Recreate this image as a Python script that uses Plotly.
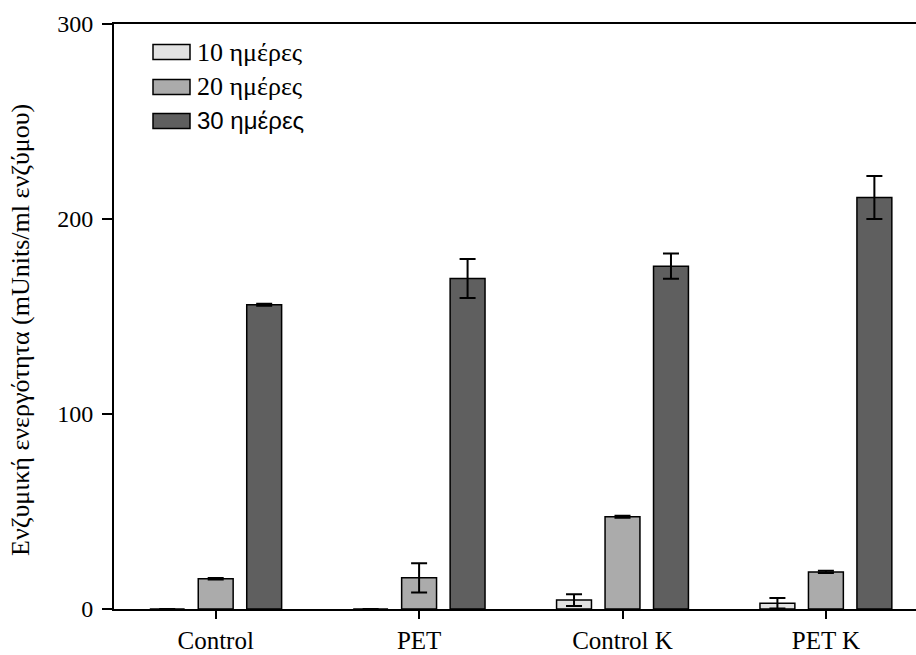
import plotly.graph_objects as go

categories = ["Control", "PET", "Control K", "PET K"]
series_names = ["10 ημέρες", "20 ημέρες", "30 ημέρες"]
values_10 = [0, 0, 4.6, 3.0]
values_20 = [15.5, 16.0, 47.3, 19.0]
values_30 = [156.0, 169.5, 175.8, 211.0]
err_10 = [None, None, 3.0, 2.7]
err_20 = [0.4, 7.5, 0.5, 0.6]
err_30 = [0.5, 10.0, 6.5, 11.0]
colors = ["#e2e2e2", "#ababab", "#5f5f5f"]
y_ticks = [0, 100, 200, 300]
y_title = "Ενζυμική ενεργότητα (mUnits/ml ενζύμου)"

serif = "Liberation Serif, Times New Roman, serif"
sans = "Liberation Sans, Arial, sans-serif"

fig = go.Figure()
for name, vals, errs, col in zip(series_names, [values_10, values_20, values_30],
                                 [err_10, err_20, err_30], colors):
    fig.add_trace(go.Bar(
        x=categories, y=vals, name=name,
        marker=dict(color=col, line=dict(color="black", width=1.5)),
        error_y=dict(type="data", array=errs, visible=True, color="black",
                     thickness=2, width=8),
        showlegend=False,
    ))

W, H = 916, 655
ml, mr, mt, mb = 114, 0, 24, 46
pw, ph = W - ml - mr, H - mt - mb

def px_x(px):
    return (px - ml) / pw

def px_y(py):
    return (H - mb - py) / ph

# manual legend
legend_y = [52, 87, 121]
legend_fonts = [serif, serif, sans]
shapes = []
annotations = []
for name, col, ly, fnt in zip(series_names, colors, legend_y, legend_fonts):
    shapes.append(dict(type="rect", xref="paper", yref="paper",
                       x0=px_x(153), x1=px_x(190), y0=px_y(ly + 7.5), y1=px_y(ly - 7.5),
                       fillcolor=col, line=dict(color="black", width=1.5)))
    annotations.append(dict(xref="paper", yref="paper", x=px_x(195), y=px_y(ly),
                            text=name, showarrow=False, xanchor="left", yanchor="middle",
                            font=dict(family=fnt, size=26 if fnt == serif else 24,
                                      color="black")))

# y-axis title as rotated annotation
annotations.append(dict(xref="paper", yref="paper", x=px_x(21), y=px_y(330),
                        text=y_title, showarrow=False, textangle=-90,
                        xanchor="center", yanchor="middle",
                        font=dict(family=serif, size=26, color="black")))

fig.update_layout(
    width=W, height=H,
    margin=dict(l=ml, r=mr, t=mt, b=mb, pad=0),
    paper_bgcolor="white", plot_bgcolor="white",
    barmode="group", bargap=0.285, bargroupgap=0.28,
    font=dict(family=serif, size=22, color="black"),
    shapes=shapes, annotations=annotations,
)
fig.update_xaxes(
    range=[-0.5, -0.5 + pw / 203.4],
    showline=True, linecolor="black", linewidth=2, mirror=True,
    ticks="outside", ticklen=8, tickwidth=1.5, tickcolor="black",
    showgrid=False, zeroline=False,
    tickfont=dict(family=serif, size=25),
)
fig.update_yaxes(
    range=[0, 300], tickvals=y_ticks,
    showline=True, linecolor="black", linewidth=2, mirror=False,
    ticks="outside", ticklen=10, tickwidth=1.5, tickcolor="black",
    showgrid=False, zeroline=False,
    tickfont=dict(family=serif, size=24),
    ticklabelstandoff=4,
)

fig.write_html("out.html")
